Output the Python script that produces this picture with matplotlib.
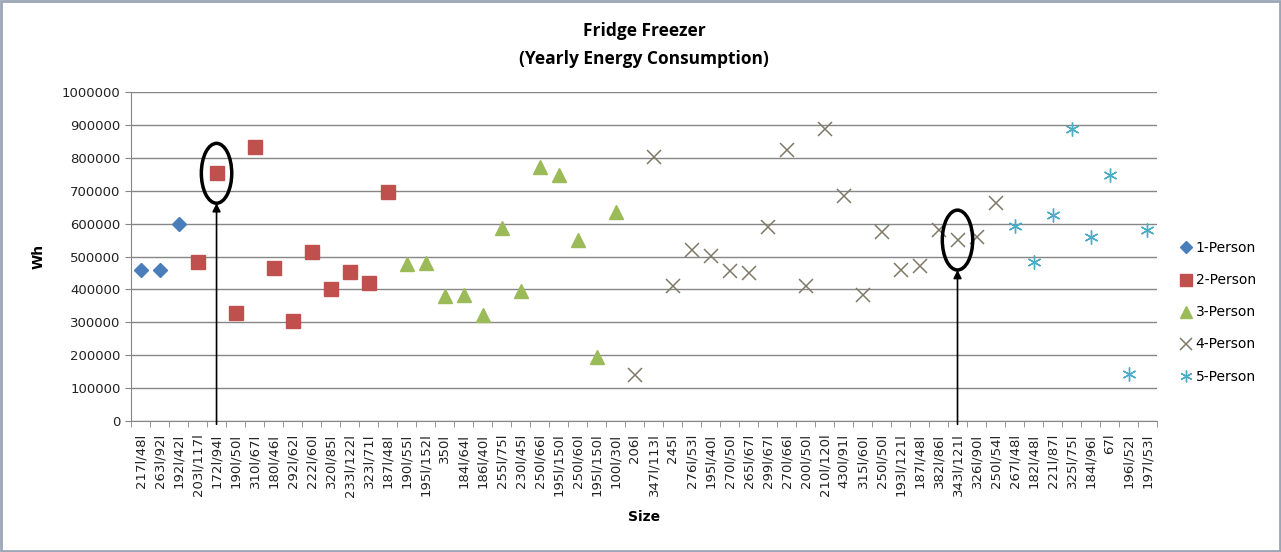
import matplotlib.pyplot as plt
import numpy as np
from matplotlib.patches import Ellipse, Rectangle
from matplotlib.ticker import StrMethodFormatter

sizes = [
    "217l/48l", "263l/92l", "192l/42l", "203l/117l", "172l/94l", "190l/50l",
    "310l/67l", "180l/46l", "292l/62l", "222l/60l", "320l/85l", "233l/122l",
    "323l/71l", "187l/48l", "190l/55l", "195l/152l", "350l", "184l/64l",
    "186l/40l", "255l/75l", "230l/45l", "250l/66l", "195l/150l", "250l/60l",
    "195l/150l", "100l/30l", "206l", "347l/113l", "245l", "276l/53l",
    "195l/40l", "270l/50l", "265l/67l", "299l/67l", "270l/66l", "200l/50l",
    "210l/120l", "430l/91l", "315l/60l", "250l/50l", "193l/121l", "187l/48l",
    "382l/86l", "343l/121l", "326l/90l", "250l/54l", "267l/48l", "182l/48l",
    "221l/87l", "325l/75l", "184l/96l", "67l", "196l/52l", "197l/53l",
]

# yearly consumption in Wh, series follow each other along the size axis
person1 = [458000, 458000, 600000]
person2 = [483000, 753000, 329000, 834000, 466000, 305000, 515000, 401000,
           454000, 418000, 696000]
person3 = [478000, 479000, 380000, 383000, 322000, 588000, 395000, 771000,
           747000, 549000, 195000, 634000]
person4 = [139000, 803000, 411000, 520000, 502000, 457000, 449000, 589000,
           823000, 411000, 888000, 683000, 383000, 575000, 459000, 472000,
           580000, 550000, 558000, 662000]
person5 = [593000, 484000, 626000, 889000, 560000, 747000, 143000, 582000]

# highlighted points (category index)
highlight_idx = [4, 43]

series = [
    ("1-Person", person1, dict(marker="D", color="#4a7ebb", ms=7.5)),
    ("2-Person", person2, dict(marker="s", color="#c0504d", ms=9.5)),
    ("3-Person", person3, dict(marker="^", color="#9bbb59", ms=10)),
    ("4-Person", person4, dict(marker="x", color="#7f7a68", ms=10, mew=1.1)),
    ("5-Person", person5, dict(marker=(6, 2, 0), color="#4bacc6", ms=10, mew=1.0)),
]

fig = plt.figure(figsize=(12.81, 5.52), dpi=100)
ax = fig.add_axes([0.1023, 0.2373, 0.8009, 0.596])

all_vals = person1 + person2 + person3 + person4 + person5
start = 0
for name, vals, style in series:
    x = np.arange(start, start + len(vals))
    ax.plot(x, vals, linestyle="none", label=name, zorder=3, **style)
    start += len(vals)

ax.set_xlim(-0.5, len(sizes) - 0.5)
ax.set_ylim(0, 1000000)
ax.set_yticks(np.arange(0, 1000001, 100000))
ax.yaxis.set_major_formatter(StrMethodFormatter("{x:.0f}"))
ax.yaxis.grid(True, color="#868686", lw=1)
ax.set_axisbelow(True)

ax.set_xticks(np.arange(len(sizes)))
ax.set_xticklabels(sizes, rotation=90, fontsize=9.5, color="#222222")
ax.set_xticks(np.arange(-0.5, len(sizes)), minor=True)
ax.tick_params(axis="x", which="major", length=0, pad=9)
ax.tick_params(axis="x", which="minor", length=4, color="#868686", direction="out")
ax.tick_params(axis="y", length=4, color="#868686", labelsize=9.5, labelcolor="#222222")

for s in ["top", "right"]:
    ax.spines[s].set_visible(False)
ax.spines["left"].set_color("#868686")
ax.spines["bottom"].set_color("#868686")

# circled points with arrows
for i in highlight_idx:
    v = all_vals[i]
    ax.add_patch(Ellipse((i, v), width=1.6, height=182000, fill=False,
                         ec="black", lw=2.5, zorder=4))
    ax.annotate("", xy=(i, v - 91000), xytext=(i, -10000),
                arrowprops=dict(arrowstyle="-|>", color="black", lw=1.2,
                                mutation_scale=12, shrinkA=0, shrinkB=0),
                annotation_clip=False, zorder=4)

ax.set_title("Fridge Freezer\n(Yearly Energy Consumption)", fontsize=12.5,
             fontweight="bold", family="Open Sans", linespacing=1.75, pad=20)
ax.set_xlabel("Size", fontsize=10, fontweight="bold", labelpad=10)
ax.set_ylabel("Wh", fontsize=10, fontweight="bold", labelpad=12)

ax.legend(loc="center left", bbox_to_anchor=(1.008, 0.33), frameon=False,
          fontsize=10, handletextpad=0.1, labelspacing=1.3, handlelength=1.2,
          markerscale=0.85)

fig.patches.append(Rectangle((0.001, 0.002), 0.998, 0.996, transform=fig.transFigure,
                             fill=False, ec="#9aa6b5", lw=2))

fig.savefig("out.png", dpi=100)
